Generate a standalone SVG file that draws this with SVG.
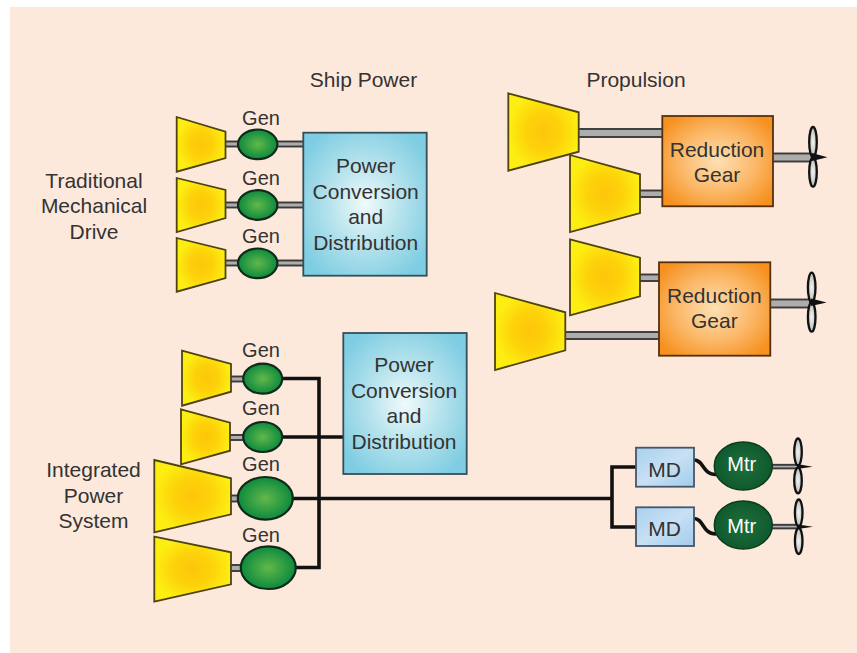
<svg xmlns="http://www.w3.org/2000/svg" width="857" height="653" viewBox="0 0 857 653">
<style>
text{font-family:"Liberation Sans",Arial,sans-serif;font-size:20px;fill:#333;text-anchor:middle}
.b{font-size:21px}
.w{fill:#fff}
.t{fill:url(#yel);stroke:#4f4312;stroke-width:1.8}
.g{fill:url(#grn);stroke:#0f2a18;stroke-width:2.2}
.m{fill:url(#dgr);stroke:#0c3a1e;stroke-width:1.5}
.pc{fill:url(#blu);stroke:#33505a;stroke-width:1.8}
.rg{fill:url(#org);stroke:#553010;stroke-width:1.8}
.md{fill:url(#mdb);stroke:#46566a;stroke-width:1.8}
.s{fill:#adadad;stroke:#3a3a3a;stroke-width:1.9}
.w3{fill:none;stroke:#111;stroke-width:3.6}
.p{fill:url(#prp);stroke:#111;stroke-width:2.3}
.h{fill:#111}
</style>
<defs>
<radialGradient id="yel"><stop offset="0" stop-color="#fdc60a"/><stop offset="0.5" stop-color="#fdd20a"/><stop offset="1" stop-color="#fcee12"/></radialGradient>
<radialGradient id="grn"><stop offset="0" stop-color="#62b84a"/><stop offset="1" stop-color="#0d8a3e"/></radialGradient>
<radialGradient id="dgr"><stop offset="0" stop-color="#1f6f3c"/><stop offset="1" stop-color="#0f5a2e"/></radialGradient>
<radialGradient id="blu" r="0.6"><stop offset="0" stop-color="#f0fafb"/><stop offset="0.5" stop-color="#b4e2ec"/><stop offset="1" stop-color="#7fcde2"/></radialGradient>
<radialGradient id="org" r="0.62"><stop offset="0" stop-color="#fde0b4"/><stop offset="0.55" stop-color="#fbb868"/><stop offset="1" stop-color="#f6901e"/></radialGradient>
<linearGradient id="mdb" x1="0" y1="0" x2="1" y2="1"><stop offset="0" stop-color="#a8d0ee"/><stop offset="0.5" stop-color="#c8e0f4"/><stop offset="1" stop-color="#a2ccec"/></linearGradient>
<radialGradient id="prp"><stop offset="0" stop-color="#f2f5f2"/><stop offset="1" stop-color="#b8bdb8"/></radialGradient>
</defs>
<rect x="10" y="7" width="847" height="646" fill="#fde9dc"/>

<g id="connectors">
<rect class="s" x="224" y="141.5" width="82" height="5"/>
<rect class="s" x="224" y="202.5" width="82" height="5"/>
<rect class="s" x="224" y="260.5" width="82" height="5"/>
<rect class="s" x="229" y="376.5" width="20" height="5"/>
<rect class="s" x="229" y="435" width="20" height="5"/>
<rect class="s" x="229" y="495.5" width="20" height="6"/>
<rect class="s" x="229" y="565" width="20" height="6"/>
<rect class="s" x="578" y="129" width="85" height="8"/>
<rect class="s" x="639" y="190.5" width="24" height="6.5"/>
<rect class="s" x="639" y="274.5" width="21" height="6.5"/>
<rect class="s" x="564" y="332" width="96" height="7"/>
<rect class="s" x="772" y="153.5" width="40" height="8"/>
<rect class="s" x="769" y="299.5" width="41" height="8"/>
<rect class="s" x="770" y="464.8" width="28" height="3.6"/>
<rect class="s" x="770" y="524.8" width="28" height="3.6"/>
<path class="w3" d="M281 378.5H319V567.5H294"/>
<path class="w3" d="M281 437H344"/>
<path class="w3" d="M291 498.5H612"/>
<path class="w3" d="M636 467H612V527H636"/>
<path class="w3" d="M694 460C704 460 702 474.5 716 474.5"/>
<path class="w3" d="M694 518.5C704 518.5 702 534 716 534"/>
</g>

<g id="turbine-1"><polygon class="t" points="176.7,117 225.5,131.7 225.5,158 176.7,171.7"/></g>
<g id="turbine-2"><polygon class="t" points="176.7,178 225.5,190 225.5,218 176.7,232"/></g>
<g id="turbine-3"><polygon class="t" points="176.7,238 225.5,250 225.5,278 176.7,291.7"/></g>
<g id="gen-1"><ellipse class="g" cx="257.7" cy="144.3" rx="19.7" ry="14.8"/><text x="261" y="125">Gen</text></g>
<g id="gen-2"><ellipse class="g" cx="257.7" cy="205" rx="19.7" ry="14.8"/><text x="261" y="185">Gen</text></g>
<g id="gen-3"><ellipse class="g" cx="257.7" cy="263.3" rx="19.7" ry="14.8"/><text x="261" y="242.7">Gen</text></g>
<g id="pcd-1"><rect class="pc" x="303.3" y="132.7" width="123.4" height="143"/>
<text class="b" x="365.7" y="172.5">Power</text><text class="b" x="365.7" y="198.5">Conversion</text><text class="b" x="365.7" y="224">and</text><text class="b" x="365.7" y="249.5">Distribution</text></g>

<g id="turbine-5"><polygon class="t" points="508.3,93.3 578.7,112.3 578.7,151.7 508.3,170.7"/></g>
<g id="turbine-6"><polygon class="t" points="570,155 640,174.3 640,213 570,232"/></g>
<g id="turbine-7"><polygon class="t" points="570,239.3 640,257.7 640,296.3 570,315.3"/></g>
<g id="turbine-8"><polygon class="t" points="495,293 565.3,312.3 565.3,350.3 495,370"/></g>
<g id="gear-1"><rect class="rg" x="662.3" y="116" width="110.7" height="90.3"/><text class="b" x="717" y="156.7">Reduction</text><text class="b" x="717" y="181.7">Gear</text></g>
<g id="gear-2"><rect class="rg" x="659" y="262.3" width="111.3" height="93.4"/><text class="b" x="714.3" y="303.3">Reduction</text><text class="b" x="714.3" y="328.3">Gear</text></g>
<g id="prop-1"><ellipse class="p" cx="813" cy="142" rx="3.8" ry="15"/><ellipse class="p" cx="813" cy="172" rx="3.8" ry="14.7"/><polygon class="h" points="812,153 827.5,157.3 812,161"/></g>
<g id="prop-2"><ellipse class="p" cx="811.7" cy="287.5" rx="3.8" ry="14.8"/><ellipse class="p" cx="811.7" cy="317" rx="3.8" ry="14.7"/><polygon class="h" points="811,298.5 826.7,302.5 811,306"/></g>

<g id="turbine-9"><polygon class="t" points="182,350.7 231,364 231,391.7 182,405.7"/></g>
<g id="turbine-10"><polygon class="t" points="181,409.3 230,422.7 230,450.7 181,464.3"/></g>
<g id="turbine-11"><polygon class="t" points="154.3,460 231,478.3 231,514.3 154.3,532.3"/></g>
<g id="turbine-12"><polygon class="t" points="154.3,536.7 231,552.3 231,584.3 154.3,601.7"/></g>
<g id="gen-4"><ellipse class="g" cx="262.7" cy="378.7" rx="19.5" ry="15"/><text x="261" y="356.7">Gen</text></g>
<g id="gen-5"><ellipse class="g" cx="262.7" cy="437" rx="19.5" ry="15"/><text x="261" y="415.3">Gen</text></g>
<g id="gen-6"><ellipse class="g" cx="265.3" cy="498.3" rx="27.5" ry="21.3"/><text x="261" y="471.3">Gen</text></g>
<g id="gen-7"><ellipse class="g" cx="268.3" cy="567.7" rx="27.5" ry="21.3"/><text x="261" y="541.7">Gen</text></g>
<g id="pcd-2"><rect class="pc" x="343.3" y="333" width="123.4" height="141"/>
<text class="b" x="404" y="372">Power</text><text class="b" x="404" y="397.5">Conversion</text><text class="b" x="404" y="423">and</text><text class="b" x="404" y="448.5">Distribution</text></g>
<g id="md-1"><rect class="md" x="636" y="447.7" width="58" height="39"/><text class="b" x="664.7" y="476.7">MD</text></g>
<g id="md-2"><rect class="md" x="636" y="507.3" width="58" height="38.7"/><text class="b" x="664.7" y="536">MD</text></g>
<g id="mtr-1"><ellipse class="m" cx="743.3" cy="466" rx="29" ry="24"/><text class="w" x="741.7" y="470.5">Mtr</text></g>
<g id="mtr-2"><ellipse class="m" cx="743.3" cy="525" rx="29" ry="24"/><text class="w" x="741.7" y="532.7">Mtr</text></g>
<g id="prop-3"><ellipse class="p" cx="798" cy="452" rx="3.8" ry="13.5"/><ellipse class="p" cx="798" cy="480.5" rx="3.8" ry="12.8"/><polygon class="h" points="797,464 812.7,466.7 797,469"/></g>
<g id="prop-4"><ellipse class="p" cx="798.7" cy="513" rx="3.8" ry="13.5"/><ellipse class="p" cx="798.7" cy="541" rx="3.8" ry="13"/><polygon class="h" points="798,524.5 813,526.7 798,529"/></g>

<g id="labels">
<text class="b" x="363.5" y="87">Ship Power</text>
<text class="b" x="636" y="87">Propulsion</text>
<text class="b" x="94" y="188">Traditional</text><text class="b" x="94" y="213">Mechanical</text><text class="b" x="94" y="238.5">Drive</text>
<text class="b" x="93.5" y="477">Integrated</text><text class="b" x="93.5" y="503">Power</text><text class="b" x="93.5" y="528">System</text>
</g>
</svg>
